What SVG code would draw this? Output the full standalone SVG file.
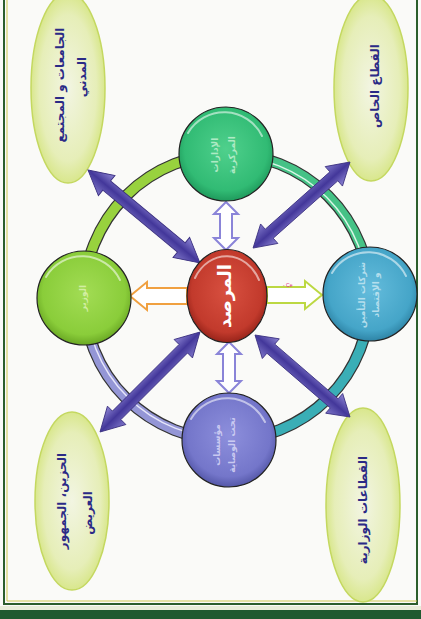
<svg xmlns="http://www.w3.org/2000/svg" width="421" height="619" viewBox="0 0 421 619">
<style>
.lbl{font-family:"DejaVu Sans",sans-serif;font-weight:bold;font-size:12px;fill:#2b2a86;text-anchor:middle;dominant-baseline:central}
.cl{font-family:"DejaVu Sans",sans-serif;font-weight:bold;font-size:9px;text-anchor:middle;dominant-baseline:central;opacity:0.85}
.ell{stroke:#c4d860;stroke-width:1.5;fill:url(#gEll)}
.circ{stroke:#222;stroke-width:1.2}
.hl{fill:none;stroke:#fff;stroke-width:2;stroke-opacity:0.55;stroke-linecap:round}
.diag{fill:url(#gDiag);stroke:#3a2f80;stroke-width:0.8}
.vert{fill:#fff;stroke:#8a84d8;stroke-width:2}
</style>
<defs>
<radialGradient id="gEll" cx="50%" cy="50%" r="55%">
<stop offset="0" stop-color="#f2f5e2"/><stop offset="0.7" stop-color="#e6eeb8"/><stop offset="1" stop-color="#d3e47a"/>
</radialGradient>
<linearGradient id="gDiag" x1="0" y1="0" x2="0" y2="1">
<stop offset="0" stop-color="#8e86d4"/><stop offset="0.5" stop-color="#43379a"/><stop offset="1" stop-color="#7e76c8"/>
</linearGradient>
<radialGradient id="gGreen" cx="50%" cy="45%" r="55%"><stop offset="0" stop-color="#4fd08c"/><stop offset="0.8" stop-color="#31bb74"/><stop offset="1" stop-color="#1f9a5c"/></radialGradient>
<radialGradient id="gLime" cx="50%" cy="45%" r="55%"><stop offset="0" stop-color="#a2dc54"/><stop offset="0.8" stop-color="#8acd3a"/><stop offset="1" stop-color="#6aa824"/></radialGradient>
<radialGradient id="gBlue" cx="50%" cy="45%" r="55%"><stop offset="0" stop-color="#64bcdc"/><stop offset="0.8" stop-color="#45a5c8"/><stop offset="1" stop-color="#2e84a6"/></radialGradient>
<radialGradient id="gPurp" cx="50%" cy="45%" r="55%"><stop offset="0" stop-color="#8d8fdc"/><stop offset="0.8" stop-color="#7476ca"/><stop offset="1" stop-color="#5457a8"/></radialGradient>
<radialGradient id="gRed" cx="50%" cy="45%" r="55%"><stop offset="0" stop-color="#d85040"/><stop offset="0.8" stop-color="#c23a2c"/><stop offset="1" stop-color="#98241a"/></radialGradient>
<polygon id="dbl" points="0,0 20,-13 20,-6 100,-6 100,-13 120,0 100,13 100,6 20,6 20,13"/>
</defs>

<!-- page -->
<rect x="0" y="0" width="421" height="619" fill="#fafaf8"/>
<g id="frame">
<rect x="4" y="-5" width="413" height="609" fill="none" stroke="#2c5e2c" stroke-width="2"/>
<line x1="7" y1="0" x2="7" y2="601" stroke="#cfc850" stroke-width="1"/>
<line x1="7" y1="601" x2="417" y2="601" stroke="#cfc850" stroke-width="1"/>
<rect x="0" y="606" width="421" height="4" fill="#e8ecd8"/>
<rect x="0" y="610" width="421" height="9" fill="#1f5a30"/>
</g>

<!-- ring -->
<g id="ring">
<circle cx="227" cy="297" r="143" fill="none" stroke="#333" stroke-width="12"/>
<path d="M84,297 A143,143 0 0 1 227,154" fill="none" stroke="#98d23e" stroke-width="9.5"/>
<path d="M227,154 A143,143 0 0 1 370,297" fill="none" stroke="#45c286" stroke-width="9.5"/>
<path d="M370,297 A143,143 0 0 1 227,440" fill="none" stroke="#3aaeb6" stroke-width="9.5"/>
<path d="M227,440 A143,143 0 0 1 84,297" fill="none" stroke="#9496d6" stroke-width="9.5"/>
<path d="M227,156 A141,141 0 0 1 368,297" fill="none" stroke="#d8f6e6" stroke-width="1.5"/>
<path d="M227,438 A141,141 0 0 1 86,297" fill="none" stroke="#e6e6fa" stroke-width="1.5"/>
</g>

<!-- outer ellipses -->
<g id="n-universities">
<ellipse class="ell" cx="68" cy="88" rx="37" ry="95"/>
<text class="lbl" transform="translate(60,85) rotate(-90)">الجامعات و المجتمع</text>
<text class="lbl" transform="translate(82,77) rotate(-90)">المدني</text>
</g>
<g id="n-private">
<ellipse class="ell" cx="371" cy="88" rx="37" ry="93"/>
<text class="lbl" transform="translate(375,86) rotate(-90)">القطاع الخاص</text>
</g>
<g id="n-public">
<ellipse class="ell" cx="72" cy="501" rx="37" ry="89"/>
<text class="lbl" transform="translate(62,501) rotate(-90)">الحزين، الجمهور</text>
<text class="lbl" transform="translate(88,513) rotate(-90)">العريض</text>
</g>
<g id="n-ministries">
<ellipse class="ell" cx="363" cy="505" rx="37" ry="97"/>
<text class="lbl" transform="translate(363,510) rotate(-90)">القطاعات الوزارية</text>
</g>

<!-- connectors -->
<g id="connectors">
<use href="#dbl" class="diag" transform="translate(88,170) rotate(39.7) scale(1.213,1)"/>
<use href="#dbl" class="diag" transform="translate(350,162) rotate(138.4) scale(1.08,1)"/>
<use href="#dbl" class="diag" transform="translate(100,432) rotate(-45) scale(1.178,1)"/>
<use href="#dbl" class="diag" transform="translate(255,335) rotate(40.8) scale(1.046,1)"/>
<polygon class="vert" points="226,202 238,214 232,214 232,238 238,238 226,250 214,238 220,238 220,214 214,214"/>
<polygon class="vert" points="229,342 241,354 235,354 235,381 241,381 229,393 217,381 223,381 223,354 217,354"/>
<polygon fill="#fff" stroke="#f0a040" stroke-width="2" points="130,296 147,282 147,288 187,288 187,304 147,304 147,310"/>
<polygon fill="#fff" stroke="#bcd842" stroke-width="2" points="322,295 305,281 305,287 267,287 267,303 305,303 305,309"/>
</g>

<!-- circles -->
<g id="n-central-admin">
<circle class="circ" cx="226" cy="154" r="47" fill="url(#gGreen)"/>
<path class="hl" d="M188,133 A42,42 0 0 1 262,136"/>
<text class="cl" fill="#c0f0d0" transform="translate(215,155) rotate(-90)">الإدارات</text>
<text class="cl" fill="#c0f0d0" transform="translate(232,155) rotate(-90)">المركزية</text>
</g>
<g id="n-minister">
<circle class="circ" cx="84" cy="298" r="47" fill="url(#gLime)"/>
<path class="hl" d="M46,277 A42,42 0 0 1 120,280"/>
<text class="cl" fill="#dcf2b0" transform="translate(83,298) rotate(-90)">الوزير</text>
</g>
<g id="n-insurance">
<circle class="circ" cx="370" cy="294" r="47" fill="url(#gBlue)"/>
<path class="hl" d="M332,273 A42,42 0 0 1 406,276"/>
<text class="cl" fill="#c4e6f2" transform="translate(362,295) rotate(-90)">شركات التأمين</text>
<text class="cl" fill="#c4e6f2" transform="translate(376,295) rotate(-90)">و الإقتصاد</text>
</g>
<g id="n-institutions">
<circle class="circ" cx="229" cy="440" r="47" fill="url(#gPurp)"/>
<path class="hl" d="M191,419 A42,42 0 0 1 265,422"/>
<text class="cl" fill="#d6d6f6" transform="translate(217,445) rotate(-90)">مؤسسات</text>
<text class="cl" fill="#d6d6f6" transform="translate(232,445) rotate(-90)">تحت الوصاية</text>
</g>
<g id="n-observatory">
<ellipse class="circ" cx="227" cy="296" rx="40" ry="46.5" fill="url(#gRed)"/>
<path class="hl" d="M195,278 A36,42 0 0 1 259,280"/>
<text font-family="DejaVu Sans, sans-serif" font-weight="bold" font-size="18" fill="#fff" text-anchor="middle" dominant-baseline="central" transform="translate(224,296) rotate(-90)">المرصد</text>
</g>
<text x="283" y="287" font-family="Liberation Sans, sans-serif" font-size="5" fill="#e03080">- Ce</text>
</svg>
